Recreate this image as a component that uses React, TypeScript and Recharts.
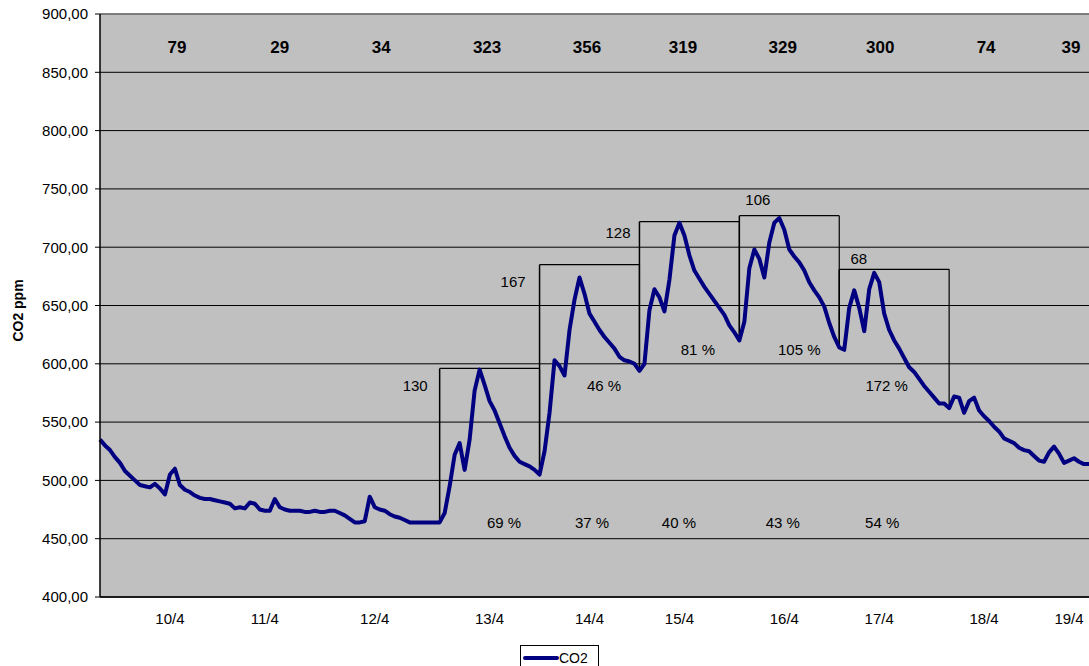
import React from 'react';
import {
  LineChart,
  Line,
  XAxis,
  YAxis,
  CartesianGrid,
  ReferenceLine,
  ReferenceDot,
  Legend,
} from 'recharts';

// CO2 readings, evenly spaced samples from 9/4 to 19/4
const co2: number[] = [
  535, 530, 526, 520, 515, 508, 504, 500, 496, 495,
  494, 497, 493, 488, 505, 510, 496, 492, 490, 487,
  485, 484, 484, 483, 482, 481, 480, 476, 477, 476,
  481, 480, 475, 474, 474, 484, 477, 475, 474, 474,
  474, 473, 473, 474, 473, 473, 474, 474, 472, 470,
  467, 464, 464, 465, 486, 477, 475, 474, 471, 469,
  468, 466, 464, 464, 464, 464, 464, 464, 464, 472,
  495, 522, 532, 509, 535, 577, 595, 582, 568, 560,
  549, 538, 528, 521, 516, 514, 512, 509, 505, 525,
  558, 603, 598, 590, 629, 655, 674, 660, 643, 636,
  629, 623, 618, 613, 606, 603, 602, 600, 594, 600,
  646, 664, 657, 645, 672, 710, 721, 710, 693, 680,
  673, 666, 660, 654, 648, 642, 633, 627, 620, 636,
  682, 698, 690, 674, 704, 721, 725, 715, 698, 692,
  687, 680, 670, 663, 657, 649, 635, 623, 614, 612,
  648, 663, 648, 628, 664, 678, 670, 643, 629, 620,
  613, 605, 597, 593, 587, 581, 576, 571, 566, 566,
  562, 572, 571, 558, 568, 571, 560, 555, 551, 546,
  542, 536, 534, 532, 528, 526, 525, 521, 517, 516,
  524, 529, 523, 515, 517, 519, 516, 514, 514,
];

const dayLabels = ['10/4', '11/4', '12/4', '13/4', '14/4', '15/4', '16/4', '17/4', '18/4', '19/4'];
const dayTickIdx = [14, 33, 55, 78, 98, 116, 137, 156, 177, 194];
const yTicks = [400, 450, 500, 550, 600, 650, 700, 750, 800, 850, 900];

// bold numbers along the top of the plot, one per day
const dayCounts = [79, 29, 34, 323, 356, 319, 329, 300, 74, 39];

// step boxes drawn over the curve
const boxStart = [68, 88, 108, 128, 148];
const boxEnd = [88, 108, 128, 148, 170];
const boxTop = [596, 685, 722, 727, 681];
const boxRise = ['130', '167', '128', '106', '68'];
const boxDecay = ['46 %', '81 %', '105 %', '172 %'];
const boxShare = ['69 %', '37 %', '40 %', '43 %', '54 %'];

const data = co2.map((v, i) => ({ i, co2: v }));

const FONT = 'Arial, "Liberation Sans", sans-serif';

// label anchors (x in sample index, y in ppm)
const countPos = [15.4, 36, 56.3, 77.5, 97.5, 116.7, 136.7, 156.2, 177.4, 194.4];
const risePos = [
  { x: 63.1, y: 581 },
  { x: 82.7, y: 671 },
  { x: 103.7, y: 713 },
  { x: 131.7, y: 741 },
  { x: 151.9, y: 690 },
];
const decayPos = [
  { x: 100.9, y: 581 },
  { x: 119.7, y: 612 },
  { x: 140, y: 612 },
  { x: 157.5, y: 581 },
];
const sharePos = [80.9, 98.5, 115.9, 136.7, 156.6];

const textShape = (txt: string, size: number, bold = false) => (p: any) => (
  <text
    x={p.cx}
    y={p.cy}
    textAnchor="middle"
    dominantBaseline="central"
    fontFamily={FONT}
    fontSize={size}
    fontWeight={bold ? 'bold' : 'normal'}
    fill="#000"
  >
    {txt}
  </text>
);

const YTitle = (props: any) => {
  const vb = props.viewBox || { x: 0, y: 0, height: 0 };
  const cx = vb.x + 18;
  const cy = vb.y + vb.height / 2 + 5;
  return (
    <text
      x={cx}
      y={cy}
      transform={`rotate(-90 ${cx} ${cy})`}
      textAnchor="middle"
      dominantBaseline="central"
      fontFamily={FONT}
      fontSize={14}
      fontWeight="bold"
      fill="#000"
    >
      CO2 ppm
    </text>
  );
};

const LegendBox = () => (
  <div
    style={{
      border: '1px solid #000',
      background: '#fff',
      boxSizing: 'border-box',
      width: 79,
      height: 26,
      display: 'flex',
      alignItems: 'center',
      paddingLeft: 2,
      fontFamily: FONT,
      fontSize: 14,
      color: '#000',
    }}
  >
    <svg width={36} height={8}>
      <line x1={2} y1={4} x2={34} y2={4} stroke="#000080" strokeWidth={4} strokeLinecap="round" />
    </svg>
    <span>CO2</span>
  </div>
);

const App: React.FC = () => {
  return (
    <div style={{ position: 'absolute', left: 0, top: 0, width: 1089, height: 666, overflow: 'hidden', background: '#fff' }}>
      <LineChart width={1089} height={666} data={data} margin={{ top: 14, right: 0, bottom: 39, left: 0 }}>
        <CartesianGrid vertical={false} stroke="#000" fill="#c0c0c0" fillOpacity={1} />
        <XAxis
          dataKey="i"
          type="number"
          domain={[0, co2.length - 1]}
          ticks={dayTickIdx}
          interval={0}
          tickFormatter={(v: number) => dayLabels[dayTickIdx.indexOf(v)] ?? ''}
          tickLine={false}
          tickSize={0}
          tickMargin={16}
          height={30}
          axisLine={{ stroke: '#000', strokeWidth: 1.5 }}
          tick={{ fill: '#000', fontSize: 15, fontFamily: FONT }}
        />
        <YAxis
          type="number"
          domain={[400, 900]}
          ticks={yTicks}
          interval={0}
          width={100}
          tickSize={5}
          tickMargin={7}
          tickLine={{ stroke: '#000' }}
          axisLine={{ stroke: '#000', strokeWidth: 1.5 }}
          tickFormatter={(v: number) => v.toFixed(2).replace('.', ',')}
          tick={{ fill: '#000', fontSize: 15, fontFamily: FONT }}
          label={<YTitle />}
        />
        <ReferenceLine y={900} stroke="#808080" strokeWidth={1.5} />

        {boxStart.map((s, k) => (
          <ReferenceLine
            key={`bl${k}`}
            segment={[{ x: s, y: co2[s] }, { x: s, y: boxTop[k] }]}
            stroke="#000"
            strokeWidth={1.5}
          />
        ))}
        {boxStart.map((s, k) => (
          <ReferenceLine
            key={`bt${k}`}
            segment={[{ x: s, y: boxTop[k] }, { x: boxEnd[k], y: boxTop[k] }]}
            stroke="#000"
            strokeWidth={1.2}
          />
        ))}
        {boxEnd.map((e, k) => (
          <ReferenceLine
            key={`br${k}`}
            segment={[{ x: e, y: boxTop[k] }, { x: e, y: co2[e] }]}
            stroke="#000"
            strokeWidth={1.2}
          />
        ))}

        {dayCounts.map((c, k) => (
          <ReferenceDot key={`c${k}`} x={countPos[k]} y={871} r={0} shape={textShape(String(c), 17, true)} />
        ))}
        {boxRise.map((t, k) => (
          <ReferenceDot key={`r${k}`} x={risePos[k].x} y={risePos[k].y} r={0} shape={textShape(t, 15)} />
        ))}
        {boxDecay.map((t, k) => (
          <ReferenceDot key={`d${k}`} x={decayPos[k].x} y={decayPos[k].y} r={0} shape={textShape(t, 15)} />
        ))}
        {boxShare.map((t, k) => (
          <ReferenceDot key={`s${k}`} x={sharePos[k]} y={463.5} r={0} shape={textShape(t, 15)} />
        ))}

        <Line
          type="linear"
          dataKey="co2"
          name="CO2"
          stroke="#000080"
          strokeWidth={4}
          strokeLinejoin="round"
          dot={false}
          activeDot={false}
          isAnimationActive={false}
        />
        <Legend
          layout="horizontal"
          verticalAlign="middle"
          align="center"
          content={<LegendBox />}
          wrapperStyle={{ left: 520, top: 645, width: 79, height: 26 }}
        />
      </LineChart>
    </div>
  );
};

export default App;
